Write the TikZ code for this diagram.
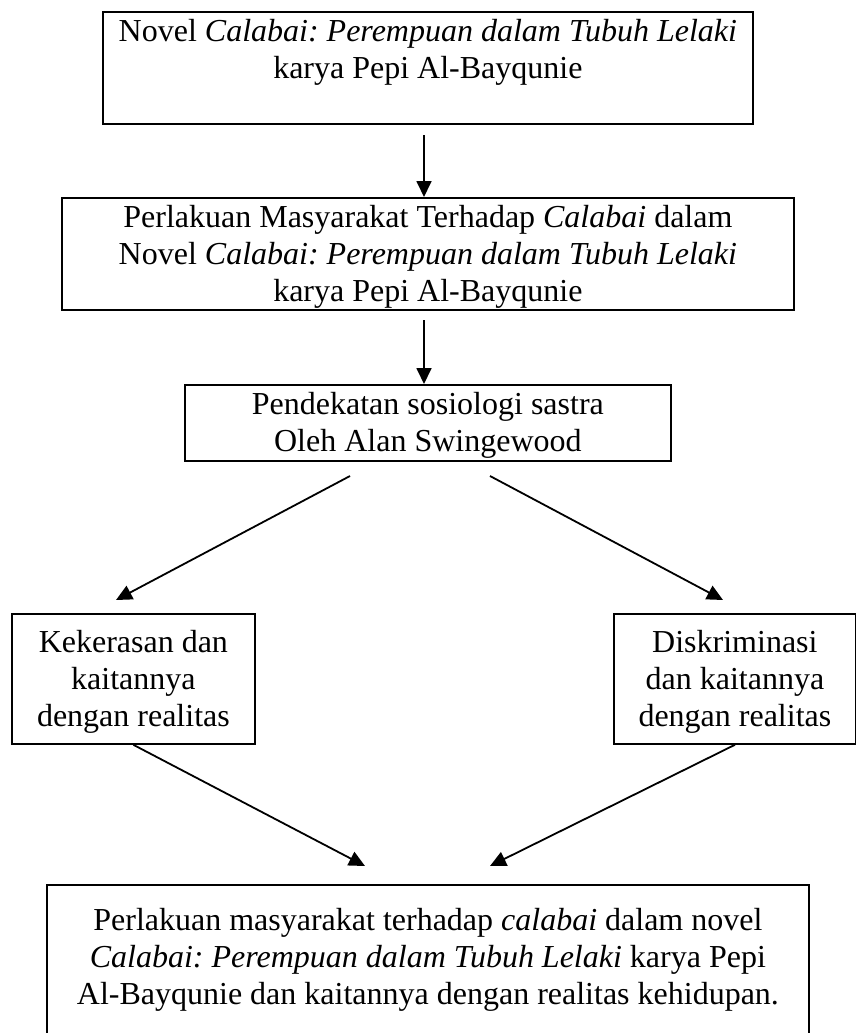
\documentclass[tikz,border=0pt]{standalone}
\usepackage{fontspec}
\setmainfont{Liberation Serif}
\usepackage{tikz}
\usetikzlibrary{arrows.meta}

\newcommand{\garis}{\rule[-8pt]{0pt}{37pt}}
\newcommand{\garisatas}{\rule[-8pt]{0pt}{54pt}}
\frenchspacing

\tikzset{
	kotak/.style={draw, line width=1.8pt, align=center, inner sep=0pt,
		anchor=north west, font=\fontsize{32}{37}\selectfont},
	panah/.style={line width=1.8pt, -{Triangle[width=15pt,length=16pt]}}
}

\begin{document}
\begin{tikzpicture}[x={(1pt,0)}, y={(0,-1pt)}]
	\useasboundingbox (0,0) rectangle (856,1033);

	\node[kotak, minimum width=650pt, minimum height=112pt] (novel) at (102,11)
		{\garis Novel \textit{Calabai: Perempuan dalam Tubuh Lelaki}\\ \garis karya Pepi Al-Bayqunie\\ \garis};
	\node[kotak, minimum width=732pt, minimum height=112pt] (perlakuan) at (61,197)
		{\garis Perlakuan Masyarakat Terhadap \textit{Calabai} dalam\\ \garis Novel \textit{Calabai: Perempuan dalam Tubuh Lelaki}\\ \garis karya Pepi Al-Bayqunie};
	\node[kotak, minimum width=486pt, minimum height=76pt] (pendekatan) at (184,384)
		{\garis Pendekatan sosiologi sastra\\ \garis Oleh Alan Swingewood};
	\node[kotak, minimum width=243pt, minimum height=130pt] (kekerasan) at (11,613)
		{\garis Kekerasan dan\\ \garis kaitannya\\ \garis dengan realitas};
	\node[kotak, minimum width=242pt, minimum height=130pt] (diskriminasi) at (613,613)
		{\garis Diskriminasi\\ \garis dan kaitannya\\ \garis dengan realitas};
	\node[kotak, minimum width=762pt] (hasil) at (46,884)
		{\garisatas Perlakuan masyarakat terhadap \textit{calabai} dalam novel\\ \garis \textit{Calabai: Perempuan dalam Tubuh Lelaki} karya Pepi\\ \garis Al-Bayqunie dan kaitannya dengan realitas kehidupan.\\ \garis\\ \garis};

	\coordinate (p1) at (424,135);
	\coordinate (p2) at (424,320);
	\coordinate (k1) at (350,476);
	\coordinate (k2) at (116,600);
	\coordinate (d1) at (490,476);
	\coordinate (d2) at (723,600);
	\coordinate (h1) at (365,866);
	\coordinate (h2) at (490,866);

	\draw[panah] (p1) -- (p1 |- perlakuan.north);
	\draw[panah] (p2) -- (p2 |- pendekatan.north);
	\draw[panah] (k1) -- (k2);
	\draw[panah] (d1) -- (d2);
	\draw[panah] (kekerasan.south) -- (h1);
	\draw[panah] (diskriminasi.south) -- (h2);
\end{tikzpicture}
\end{document}
